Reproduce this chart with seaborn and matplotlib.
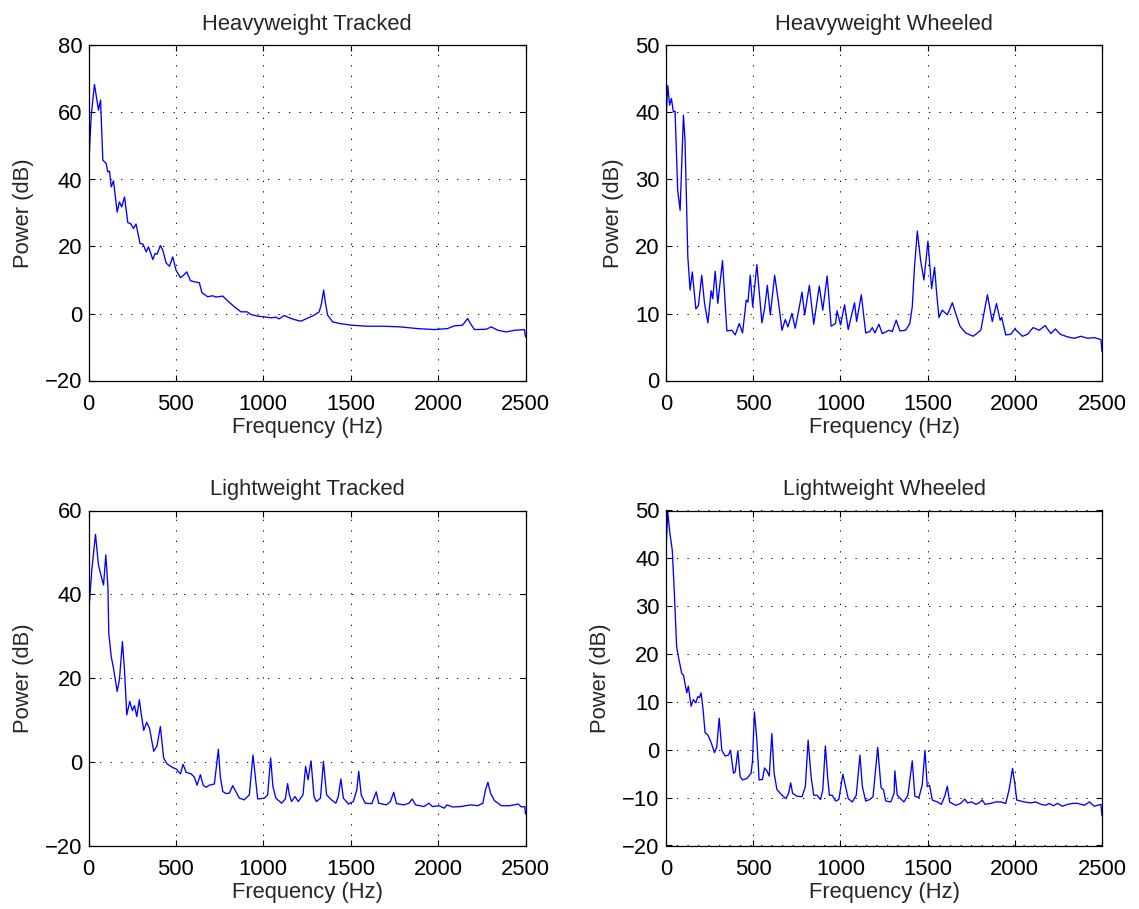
import matplotlib
matplotlib.use("Agg")
import matplotlib.pyplot as plt
import seaborn as sns
import pandas as pd

# ---------------- data ----------------
titles = ["Heavyweight Tracked", "Heavyweight Wheeled", "Lightweight Tracked", "Lightweight Wheeled"]
x_ticks = [0, 500, 1000, 1500, 2000, 2500]

ht_freq = [0, 15, 34, 57, 69, 82, 101, 110, 120, 130, 143, 164, 177, 190, 206, 225, 240, 257, 272, 295,
           312, 330, 343, 368, 381, 392, 411, 425, 444, 463, 482, 501, 526, 543, 562, 583, 611, 634, 649, 682,
           710, 729, 768, 796, 834, 872, 907, 930, 968, 1006, 1044, 1072, 1091, 1120, 1149, 1177, 1215, 1244, 1291, 1320,
           1333, 1345, 1356, 1368, 1397, 1438, 1506, 1592, 1688, 1785, 1881, 1977, 2054, 2092, 2140, 2169, 2185, 2208, 2275, 2304,
           2342, 2390, 2438, 2494, 2500]
ht_db = [42.8, 58.7, 68.4, 60.7, 63.7, 45.8, 44.8, 42.3, 42.5, 37.8, 39.6, 30.3, 33.3, 31.8, 34.8, 27.1, 26.9, 25.4, 26.7, 20.9,
         20.7, 18.4, 19.9, 16.1, 17.9, 17.7, 20.3, 18.9, 15.1, 14.1, 16.9, 12.9, 10.7, 11.4, 12.4, 9.8, 9.4, 9.2, 6.2, 5.0,
         5.3, 4.9, 5.2, 3.8, 2.0, 0.5, 0.5, -0.3, -0.8, -1.0, -1.3, -1.1, -1.6, -0.6, -1.3, -1.8, -2.3, -1.6, -0.5, 0.5,
         3.0, 7.0, 3.0, -0.5, -2.5, -3.0, -3.5, -3.8, -3.8, -4.0, -4.5, -4.8, -4.5, -3.7, -3.5, -1.5, -3.0, -4.8, -4.7, -4.0,
         -5.0, -5.5, -5.0, -4.8, -7.0]

hw_freq = [0, 10, 21, 31, 42, 52, 67, 81, 100, 109, 125, 138, 151, 171, 186, 205, 221, 240, 259, 268,
           282, 297, 324, 349, 378, 397, 420, 439, 460, 470, 483, 497, 521, 550, 565, 581, 598, 623, 646, 665,
           684, 699, 722, 741, 761, 780, 795, 822, 847, 860, 879, 899, 924, 947, 972, 981, 1001, 1024, 1045, 1060,
           1081, 1093, 1120, 1145, 1168, 1183, 1198, 1221, 1240, 1279, 1297, 1320, 1341, 1374, 1398, 1412, 1425, 1441, 1460, 1479,
           1502, 1523, 1540, 1552, 1565, 1584, 1613, 1642, 1661, 1686, 1718, 1762, 1805, 1843, 1871, 1895, 1916, 1925, 1948, 1977,
           2000, 2044, 2073, 2105, 2140, 2174, 2207, 2232, 2261, 2303, 2341, 2379, 2418, 2456, 2494, 2500]
hw_db = [38.9, 44.0, 41.1, 42.1, 40.1, 40.2, 28.4, 25.4, 39.6, 35.9, 18.5, 13.5, 16.2, 10.7, 11.2, 15.7, 11.5, 8.6, 13.4, 12.2,
         16.3, 11.5, 17.9, 7.4, 7.5, 6.8, 8.5, 7.1, 12.0, 11.7, 15.7, 11.0, 17.3, 8.6, 10.7, 14.2, 9.8, 15.7, 11.5, 7.5,
         9.1, 8.0, 10.0, 7.8, 10.5, 13.2, 9.8, 14.2, 8.4, 10.7, 14.1, 10.5, 15.6, 8.1, 8.5, 10.4, 8.3, 11.3, 7.6, 9.3,
         11.6, 8.8, 12.8, 7.1, 7.3, 7.9, 7.1, 8.4, 7.0, 7.5, 7.3, 9.0, 7.4, 7.5, 8.5, 11.0, 17.0, 22.3, 17.9, 15.0,
         20.8, 13.7, 16.9, 13.0, 9.4, 10.5, 9.8, 11.6, 10.0, 8.1, 7.1, 6.6, 7.5, 12.8, 8.8, 11.5, 9.0, 9.4, 6.8, 6.9,
         7.7, 6.6, 6.9, 7.9, 7.5, 8.2, 7.0, 7.7, 6.9, 6.5, 6.3, 6.6, 6.3, 6.4, 6.1, 4.3]

lt_freq = [0, 19, 40, 57, 72, 86, 99, 111, 116, 130, 143, 164, 177, 194, 206, 219, 236, 251, 263, 276,
           291, 301, 316, 333, 349, 373, 392, 411, 430, 449, 482, 501, 526, 541, 558, 587, 606, 621, 640, 656,
           672, 691, 720, 732, 743, 754, 768, 787, 806, 825, 844, 863, 891, 920, 941, 952, 968, 1006, 1025, 1042,
           1055, 1072, 1105, 1126, 1139, 1149, 1162, 1181, 1200, 1227, 1242, 1256, 1273, 1290, 1304, 1327, 1344, 1362, 1390, 1415,
           1429, 1444, 1458, 1487, 1515, 1535, 1546, 1560, 1583, 1621, 1646, 1660, 1704, 1727, 1746, 1762, 1804, 1833, 1852, 1871,
           1919, 1948, 1967, 2006, 2035, 2050, 2083, 2131, 2188, 2227, 2256, 2271, 2285, 2300, 2323, 2362, 2410, 2458, 2477, 2496,
           2500]
lt_db = [35.1, 45.8, 54.3, 47.0, 44.4, 42.2, 49.4, 41.8, 30.7, 25.1, 22.3, 16.8, 19.6, 28.7, 21.9, 11.2, 14.4, 12.2, 13.4, 10.8,
         14.8, 11.6, 7.5, 9.4, 8.0, 2.5, 3.8, 8.4, 0.9, -0.5, -1.4, -1.7, -2.9, -0.6, -2.5, -2.9, -3.7, -5.6, -3.1, -5.6,
         -6.1, -5.6, -5.3, -1.1, 3.0, -3.5, -7.1, -7.6, -7.5, -5.7, -7.2, -8.7, -9.1, -7.9, 1.6, -2.7, -8.9, -8.7, -7.9, 0.9,
         -5.9, -8.7, -9.9, -8.9, -5.2, -7.9, -9.5, -8.3, -9.5, -7.9, -1.1, -4.3, 0.2, -8.3, -9.5, -8.7, 0.1, -7.9, -9.1, -9.9,
         -8.3, -4.1, -8.7, -10.1, -9.5, -6.7, -2.3, -7.9, -9.9, -10.0, -7.2, -9.9, -10.3, -9.5, -7.3, -10.0, -10.3, -9.9, -8.9, -10.3,
         -10.7, -9.9, -10.7, -10.5, -11.1, -10.3, -10.8, -10.7, -10.3, -10.5, -9.9, -6.7, -4.9, -7.5, -9.3, -10.5, -10.5, -10.1, -10.8, -10.7,
         -12.5]

lw_freq = [0, 10, 21, 36, 48, 61, 75, 90, 100, 119, 128, 144, 157, 171, 182, 192, 201, 211, 224, 240,
           259, 278, 291, 305, 320, 339, 358, 370, 387, 397, 412, 425, 439, 464, 488, 496, 507, 521, 534, 553,
           565, 578, 592, 607, 620, 636, 665, 688, 703, 715, 726, 751, 780, 799, 815, 832, 847, 866, 886, 899,
           914, 928, 937, 953, 972, 991, 1014, 1029, 1045, 1068, 1091, 1112, 1126, 1145, 1168, 1187, 1214, 1233, 1247, 1260,
           1289, 1308, 1312, 1326, 1345, 1364, 1387, 1412, 1427, 1450, 1469, 1485, 1498, 1511, 1527, 1556, 1579, 1600, 1613, 1626,
           1661, 1690, 1713, 1728, 1753, 1776, 1795, 1814, 1829, 1862, 1891, 1920, 1948, 1967, 1987, 2000, 2011, 2054, 2092, 2121,
           2150, 2178, 2197, 2222, 2245, 2274, 2303, 2332, 2360, 2399, 2428, 2456, 2475, 2494, 2500]
lw_db = [41.7, 49.8, 45.6, 41.7, 32.7, 21.5, 18.7, 16.0, 15.6, 11.9, 13.3, 9.1, 10.5, 9.8, 11.1, 10.9, 11.9, 9.0, 3.6, 3.1,
         1.5, -0.6, 0.6, 6.6, -0.1, -1.3, -1.1, -0.1, -4.9, -4.6, -0.2, -5.6, -6.3, -6.0, -4.9, -2.3, 7.9, 2.0, -6.3, -6.2,
         -3.8, -4.4, -5.5, 3.4, -4.9, -8.3, -9.5, -10.2, -9.1, -6.9, -9.1, -9.7, -9.8, -7.7, 2.0, -5.6, -9.5, -9.5, -10.4, -8.4,
         0.8, -6.2, -9.5, -9.5, -10.7, -10.4, -5.1, -7.6, -10.2, -10.9, -9.5, -1.1, -7.7, -10.7, -10.4, -9.8, 0.5, -7.9, -8.4, -10.7,
         -10.9, -9.1, -4.4, -9.5, -10.2, -10.9, -9.5, -2.3, -9.7, -10.0, -7.4, -0.1, -7.7, -7.4, -10.5, -10.9, -11.4, -9.5, -7.6, -10.9,
         -11.6, -11.2, -10.3, -11.1, -10.9, -11.4, -11.1, -10.5, -11.4, -11.2, -10.9, -10.9, -11.2, -8.4, -3.9, -7.0, -10.5, -10.9, -11.1, -10.9,
         -11.4, -11.6, -11.2, -11.7, -11.2, -11.8, -11.4, -11.2, -11.2, -11.6, -10.9, -11.8, -11.6, -11.4, -13.8]

y_ticks = [[-20, 0, 20, 40, 60, 80], [0, 10, 20, 30, 40, 50], [-20, 0, 20, 40, 60], [-20, -10, 0, 10, 20, 30, 40, 50]]
series = [(ht_freq, ht_db), (hw_freq, hw_db), (lt_freq, lt_db), (lw_freq, lw_db)]

# ---------------- style ----------------
sns.set_style("white")
plt.rcParams["font.family"] = ["Liberation Sans", "DejaVu Sans"]
plt.rcParams["axes.unicode_minus"] = True

FS = 15.8
W, H = 1139, 909
fig = plt.figure(figsize=(W / 100, H / 100), dpi=100)
fig.patch.set_facecolor("white")

# axes boxes in pixels: (left, top, right, bottom)
boxes = [(88.5, 45.5, 525.5, 380.5), (666, 45.5, 1102, 380.5),
         (88.5, 510.5, 525.5, 845.5), (666, 510.5, 1102, 845.5)]

for i, (title, (fx, fy), yt, box) in enumerate(zip(titles, series, y_ticks, boxes)):
    l, t, r, b = box
    ax = fig.add_axes([l / W, 1 - b / H, (r - l) / W, (b - t) / H])
    df = pd.DataFrame({"Frequency (Hz)": fx, "Power (dB)": fy})
    sns.lineplot(data=df, x="Frequency (Hz)", y="Power (dB)", ax=ax, color=(0, 0, 1),
                 linewidth=0.95, estimator=None, sort=True)
    ax.set_xlim(0, 2500)
    ax.set_ylim(yt[0], yt[-1])
    ax.set_xticks(x_ticks)
    ax.set_yticks(yt)
    ax.grid(True, linestyle=(0, (1.3, 9.5)), color="black", linewidth=0.7)
    ax.set_axisbelow(True)
    for sp in ax.spines.values():
        sp.set_visible(True)
        sp.set_color("black")
        sp.set_linewidth(0.9)
    ax.tick_params(direction="in", length=4, width=0.8, top=True, right=True,
                   bottom=True, left=True, labelsize=FS, colors="black")
    ax.tick_params(axis="y", pad=4.5)
    ax.tick_params(axis="x", pad=9.5)
    ax.set_title(title, fontsize=FS, pad=11)
    ax.set_xlabel("Frequency (Hz)", fontsize=FS, labelpad=1.5)
    ax.set_ylabel("Power (dB)", fontsize=FS, labelpad=8)

fig.savefig("out.png", dpi=100, facecolor="white")
